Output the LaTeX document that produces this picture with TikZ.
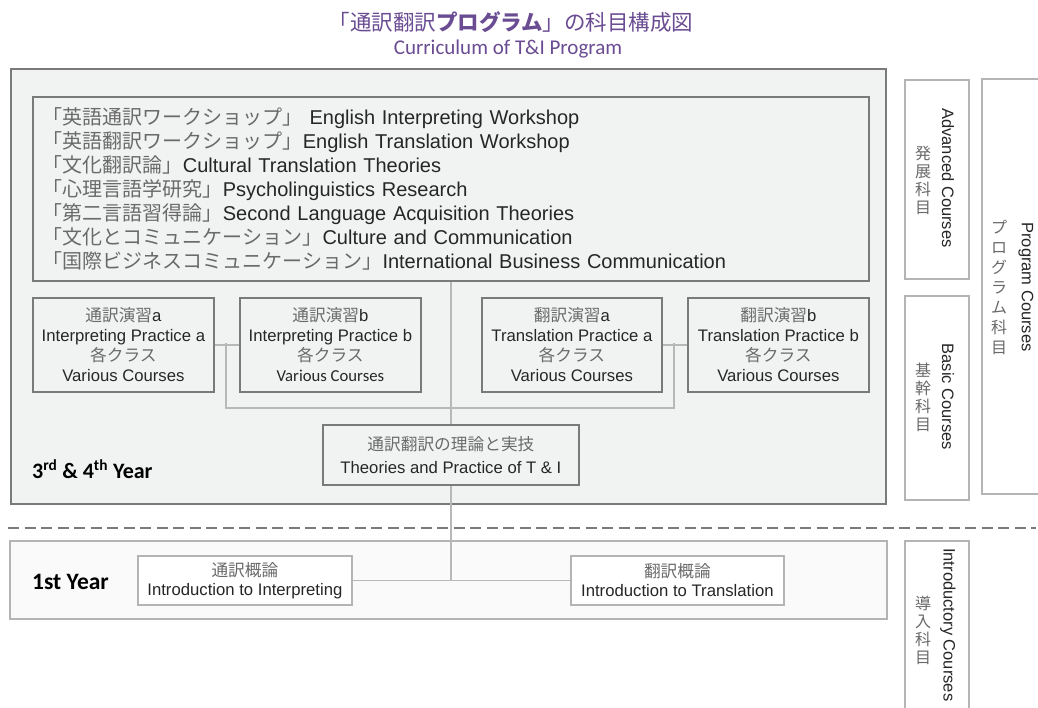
\documentclass[tikz,border=0pt]{standalone}
\usepackage{fontspec}
\setmainfont{Liberation Sans}
\newfontfamily\jp{Noto Sans CJK JP}
\newfontfamily\carl{Carlito}
\usetikzlibrary{calc}
\definecolor{ttl}{HTML}{6A4C93}
\definecolor{eng}{HTML}{262626}
\definecolor{jpg}{HTML}{6A6A6A}
\definecolor{bfill}{HTML}{F1F3F2}
\definecolor{ffill}{HTML}{FAFAFA}
\definecolor{bdr}{HTML}{7A7A7A}
\definecolor{lbdr}{HTML}{B4B4B4}
\definecolor{conn}{HTML}{B8B8B8}
\newcommand{\J}[1]{{\jp\color{jpg}#1}}
\tikzset{
  course/.style={draw=bdr, line width=1.8pt, fill=bfill, inner sep=0pt, align=center, text=eng,
    font=\fontsize{16.7}{20}\selectfont, anchor=north west},
  intro/.style={draw=lbdr, line width=1.8pt, fill=white, inner sep=0pt, align=center, text=eng,
    font=\fontsize{16.7}{19}\selectfont, anchor=north west},
  side/.style={draw=lbdr, line width=1.6pt, fill=white, inner sep=0pt, anchor=north west},
  sidetxt/.style={rotate=-90, text=eng, font=\fontsize{16.5}{20}\selectfont, inner sep=0pt},
  sidejp/.style={align=center, text=jpg, font=\jp\fontsize{16}{18}\selectfont, inner sep=0pt},
  conn/.style={draw=conn, line width=1.8pt},
  yearlbl/.style={anchor=base west, inner sep=0pt, text=black},
}
\begin{document}
\begin{tikzpicture}[x=1pt,y=-1pt]
\useasboundingbox (0,0) rectangle (1038,708);
\fill[white] (0,0) rectangle (1038,708);

% title
\node (title) [text=ttl, font=\jp\fontsize{21.5}{25}\selectfont, inner sep=0pt] at (511,22)
  {「通訳翻訳\textbf{プログラム}」の科目構成図};
\node (subtitle) [text=ttl, font=\carl\fontsize{21}{24}\selectfont, inner sep=0pt] at (508,49)
  {Curriculum of T\&I Program};

% 3rd & 4th year frame
\node (upper) [draw=bdr, line width=1.8pt, fill=bfill, inner sep=0pt, anchor=north west,
  minimum width=875, minimum height=435] at (10,68) {};
% 1st year frame
\node (lower) [draw=lbdr, line width=1.8pt, fill=ffill, inner sep=0pt, anchor=north west,
  minimum width=877, minimum height=78] at (9,540) {};

% advanced courses list
\node (adv) [draw=bdr, line width=1.8pt, fill=bfill, anchor=north west, text width=816, inner xsep=10pt,
  inner ysep=0pt, minimum height=184, align=left, text=eng, font=\fontsize{20}{24}\selectfont] at (32,96)
{\J{「英語通訳ワークショップ」} English Interpreting Workshop\\
\J{「英語翻訳ワークショップ」}English Translation Workshop\\
\J{「文化翻訳論」}Cultural Translation Theories\\
\J{「心理言語学研究」}Psycholinguistics Research\\
\J{「第二言語習得論」}Second Language Acquisition Theories\\
\J{「文化とコミュニケーション」}Culture and Communication\\
\J{「国際ビジネスコミュニケーション」}International Business Communication};

% practice boxes
\node (ipa) [course, minimum width=181, minimum height=94] at (32,297)
  {\J{通訳演習}a\\Interpreting Practice a\\\J{各クラス}\\Various Courses};
\node (ipb) [course, minimum width=181, minimum height=94] at (239,297)
  {\J{通訳演習}b\\Interpreting Practice b\\\J{各クラス}\\{\carl Various Courses}};
\node (tpa) [course, minimum width=180, minimum height=94] at (481,297)
  {\J{翻訳演習}a\\Translation Practice a\\\J{各クラス}\\Various Courses};
\node (tpb) [course, minimum width=181, minimum height=94] at (687,297)
  {\J{翻訳演習}b\\Translation Practice b\\\J{各クラス}\\Various Courses};

\node (th) [course, minimum width=256, minimum height=60, font=\fontsize{16.7}{23}\selectfont] at (322,424)
  {\J{通訳翻訳の理論と実技}\\Theories and Practice of T \& I};

\node (y34) [yearlbl, font=\carl\bfseries\fontsize{22}{26}\selectfont] at (32,478)
  {3\textsuperscript{rd} \& 4\textsuperscript{th} Year};

% dashed separator
\coordinate (dl) at (8,528);
\coordinate (dr) at (1036,528);
\draw[draw=bdr, line width=1.8pt, dash pattern=on 11pt off 5.5pt] (dl) -- (dr);

% first year
\node (y1) [yearlbl, font=\carl\bfseries\fontsize{23.5}{27}\selectfont] at (32,589) {1st Year};
\node (ii) [intro, minimum width=214, minimum height=49] at (137,555)
  {\J{通訳概論}\\Introduction to Interpreting};
\node (it) [intro, minimum width=213, minimum height=49] at (570,555)
  {\J{翻訳概論}\\Introduction to Translation};

% connectors
\coordinate (jL) at (226,343);
\coordinate (jR) at (674,343);
\coordinate (jM) at (450,408);
\draw[conn] (ipa.east) -- (ipb.west);
\draw[conn] (tpa.east) -- (tpb.west);
\draw[conn] (jL) |- (jM) -| (jR);
\draw[conn] (adv.south) -- (th.north);
\draw[conn] (th.south) -- (th.south |- ii.east);
\draw[conn] (ii.east) -- (it.west);

% side labels
\node (advbox) [side, minimum width=64, minimum height=199] at (904,79) {};
\node (advE) [sidetxt] at (948,178) {Advanced Courses};
\node (advJ) [sidejp] at (923,180) {発\\展\\科\\目};

\node (basbox) [side, minimum width=64, minimum height=204] at (904,295) {};
\node (basE) [sidetxt] at (948,397) {Basic Courses};
\node (basJ) [sidejp] at (923,397) {基\\幹\\科\\目};

\node (progbox) [side, minimum width=80, minimum height=415] at (981,78) {};
\node (progE) [sidetxt] at (1026,287) {Program Courses};
\node (progJ) [sidejp, font=\jp\fontsize{16}{20}\selectfont] at (999,287) {プ\\ロ\\グ\\ラ\\ム\\科\\目};

\node (intbox) [side, minimum width=64, minimum height=190] at (904,540) {};
\node (intE) [sidetxt, anchor=west] at (948,548) {Introductory Courses};
\node (intJ) [sidejp] at (923,630) {導\\入\\科\\目};
\end{tikzpicture}
\end{document}
